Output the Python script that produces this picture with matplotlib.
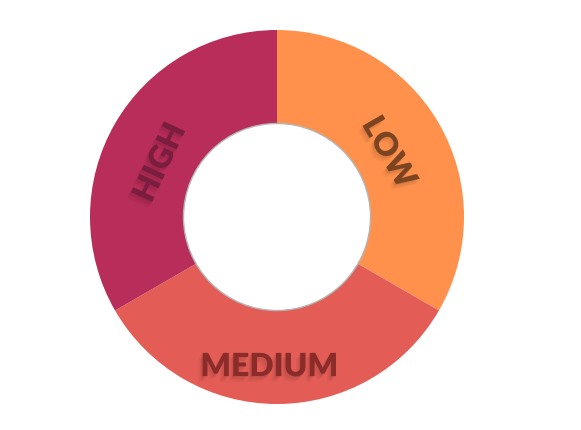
import numpy as np
import matplotlib.pyplot as plt
import matplotlib.patheffects as pe
from matplotlib.patches import Circle

# slices, clockwise from 12 o'clock
labels = ["LOW", "MEDIUM", "HIGH"]
sizes = [1, 1, 1]
colors = ["#FF914D", "#E35D56", "#B82D5A"]
text_colors = ["#7D4422", "#8A2C2A", "#7A1D3E"]

fig = plt.figure(figsize=(5.81, 4.30), dpi=100)
ax = fig.add_axes([0, 0, 1, 1])

wedges, _ = ax.pie(sizes, colors=colors, startangle=90, counterclock=False,
                   radius=1.0, wedgeprops=dict(width=0.5, linewidth=0))

# hole with a thin grey rim
ax.add_patch(Circle((0, 0), 0.5, facecolor="white", edgecolor="#b5b5b5",
                    linewidth=1.0, zorder=3))

# soft shadow made from a few faint offset copies
shadow = []
for dx, dy in [(-1, -1), (-1, -2), (-2, -3), (-3, -4)]:
    shadow.append(pe.SimplePatchShadow(offset=(dx, dy), shadow_rgbFace="black", alpha=0.035))
shadow.append(pe.Normal())

# labels along the ring
for w, lab, tc in zip(wedges, labels, text_colors):
    mid = (w.theta1 + w.theta2) / 2
    mid = (mid + 180) % 360 - 180
    r = 0.69
    if lab == "HIGH":
        mid += 5
    x = r * np.cos(np.radians(mid))
    y = r * np.sin(np.radians(mid))
    rot = mid - 90
    if rot < -90:
        rot += 180
    if lab == "MEDIUM":
        rot = 0
        x -= 0.04
        y = -0.80
    ax.text(x, y, lab, ha="center", va="center", rotation=rot,
            fontsize=23, fontweight="heavy", family="Lato", color=tc,
            path_effects=shadow, zorder=4)

cx, cy, scale = 277, 217, 187
ax.set_xlim(-cx / scale, (581 - cx) / scale)
ax.set_ylim(-(430 - cy) / scale, cy / scale)
ax.set_aspect("equal")
ax.axis("off")

fig.savefig("out.png", dpi=100)
